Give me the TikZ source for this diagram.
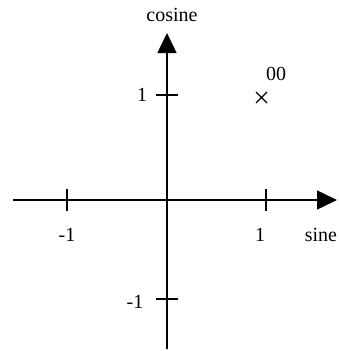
\documentclass[tikz,border=0pt]{standalone}
\usepackage{fontspec}
\setmainfont{Liberation Serif}
\usetikzlibrary{arrows.meta}
\begin{document}
\begin{tikzpicture}[x=1pt,y=-1pt,
  axis/.style={line width=1.5pt,-{Triangle[length=20pt,width=19pt]}},
  tick/.style={line width=1.5pt},
  lbl/.style={font=\fontsize{20}{22}\selectfont,inner sep=0pt}]
\useasboundingbox (0,0) rectangle (338,351);
\coordinate (xs) at (13,200);
\coordinate (xe) at (337,200);
\coordinate (ys) at (167,349);
\coordinate (ye) at (167,33);
\draw[axis] (xs) -- (xe);
\draw[axis] (ys) -- (ye);
% ticks
\draw[tick] (67,189) -- (67,211);
\draw[tick] (266,189) -- (266,211);
\draw[tick] (156,95) -- (178,95);
\draw[tick] (156,299) -- (178,299);
% cross
\draw[line width=1.4pt] (256,92) -- (267,103) (256,103) -- (267,92);
% labels
\node[lbl] (cos) at (172,15) {cosine};
\node[lbl] (sin) at (321,235) {sine};
\node[lbl] (xm) at (67,235) {-1};
\node[lbl] (xp) at (260,235) {1};
\node[lbl] (yp) at (142,95) {1};
\node[lbl] (ym) at (135,302) {-1};
\node[lbl] (pt) at (276,74) {00};
\end{tikzpicture}
\end{document}
